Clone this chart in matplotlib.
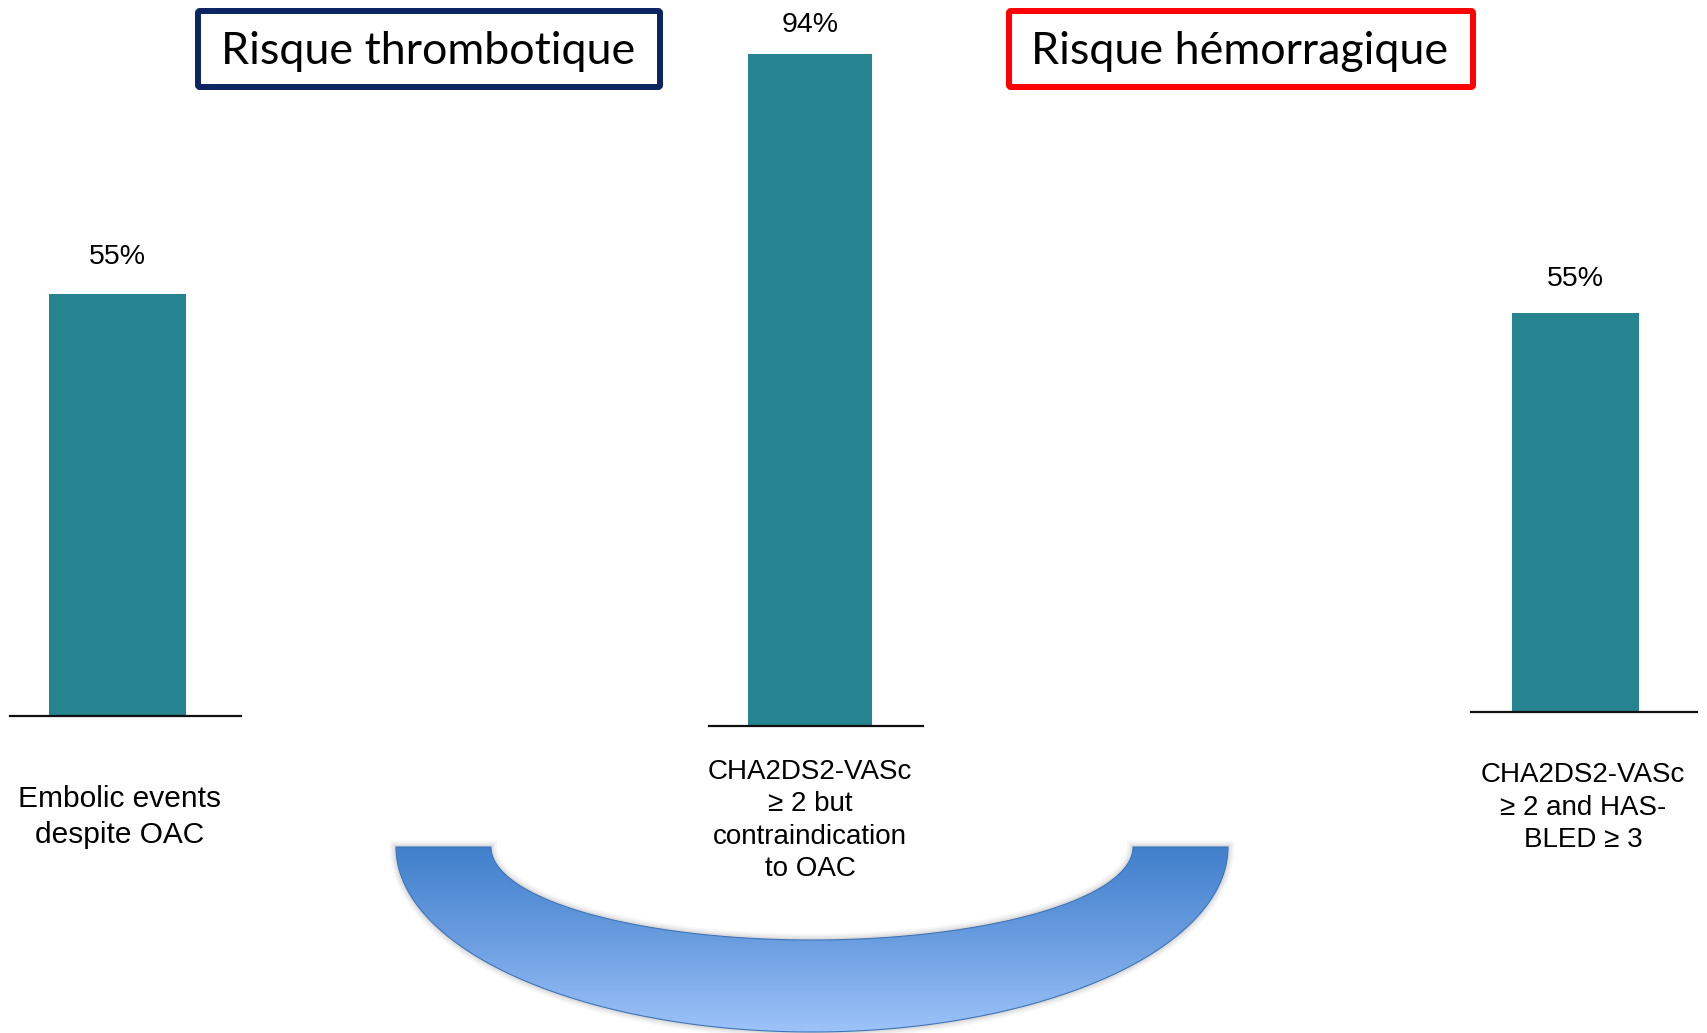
import numpy as np
import matplotlib
matplotlib.use("Agg")
import matplotlib.pyplot as plt
from matplotlib.path import Path
from matplotlib.patches import PathPatch, FancyBboxPatch
from matplotlib.colors import LinearSegmentedColormap

# ---- data ----
categories = [
    "Embolic events\ndespite OAC",
    "CHA2DS2-VASc\n\u2265 2 but\ncontraindication\nto OAC",
    "CHA2DS2-VASc\n\u2265 2 and HAS-\nBLED \u2265 3",
]
values = [55, 94, 55]
value_labels = ["55%", "94%", "55%"]
titles = ["Risque thrombotique", "Risque h\u00e9morragique"]

# ---- style ----
W, H = 1708, 1033
BAR_COLOR = "#268390"
FONT = "Liberation Sans"

fig = plt.figure(figsize=(W / 100, H / 100), dpi=100)
fig.patch.set_facecolor("white")

# full-figure canvas in pixel coordinates for the decorations
bg = fig.add_axes([0, 0, 1, 1])
bg.set_xlim(0, W)
bg.set_ylim(H, 0)
bg.axis("off")

# panel layout: (x_left, x_right, baseline_y) in pixels, y-limit, bar x, bar width,
# label x, label pad (pt), value-label offset (pt), label font size
panels = [
    dict(x0=10, x1=241, base=716, ymax=93.3, bx=0.465, bw=0.593, lx=0.476, pad=50, off=17, fs=21.5),
    dict(x0=709, x1=923, base=726, ymax=101.6, bx=0.472, bw=0.584, lx=0.472, pad=23.5, off=11.5, fs=20),
    dict(x0=1471, x1=1697, base=712, ymax=98.1, bx=0.462, bw=0.562, lx=0.496, pad=36, off=15, fs=20),
]

for p, cat, val, vlab in zip(panels, categories, values, value_labels):
    ax = fig.add_axes([p["x0"] / W, 1 - p["base"] / H, (p["x1"] - p["x0"]) / W, p["base"] / H])
    ax.patch.set_alpha(0)
    ax.set_xlim(0, 1)
    ax.set_ylim(0, p["ymax"])
    ax.bar([p["bx"]], [val], width=p["bw"], color=BAR_COLOR, zorder=2)
    ax.annotate(vlab, xy=(p["bx"], val), xytext=(0, p["off"]), textcoords="offset points",
                ha="center", va="bottom", fontsize=20.5, family=FONT, color="black")
    for s in ["top", "left", "right"]:
        ax.spines[s].set_visible(False)
    ax.spines["bottom"].set_linewidth(1.6)
    ax.spines["bottom"].set_color("#111111")
    ax.spines["bottom"].set_zorder(3)
    ax.set_yticks([])
    ax.set_xticks([p["lx"]])
    ax.set_xticklabels([cat], fontsize=p["fs"], family=FONT, linespacing=1.33)
    ax.tick_params(axis="x", length=0, pad=p["pad"])

# ---- title boxes ----
boxes = [
    dict(x0=198, x1=660, color="#0c2461", tx=428),
    dict(x0=1009, x1=1473, color="#ff0000", tx=1240),
]
for b, t in zip(boxes, titles):
    rect = FancyBboxPatch((b["x0"], 11), b["x1"] - b["x0"], 76,
                          boxstyle="round,pad=0,rounding_size=2",
                          linewidth=4.3, edgecolor=b["color"], facecolor="white", zorder=2)
    bg.add_patch(rect)
    bg.text(b["tx"], 52, t, ha="center", va="center", fontsize=32.3, family="Lato",
            color="black", zorder=3)

# ---- gradient half-ring under the middle panel ----
cx, top = 812, 847
ro_x, ro_y = 416, 185
ri_x, ri_y = 321, 93
t1 = np.linspace(np.pi, 0, 200)
outer = np.column_stack([cx + ro_x * np.cos(t1), top + ro_y * np.sin(t1)])
t2 = np.linspace(0, np.pi, 200)
inner = np.column_stack([cx + ri_x * np.cos(t2), top + ri_y * np.sin(t2)])
verts = np.vstack([outer, inner, outer[:1]])
codes = [Path.MOVETO] + [Path.LINETO] * (len(verts) - 2) + [Path.CLOSEPOLY]
ring = Path(verts, codes)

# soft shadow
for lw, a in [(9, 0.05), (6, 0.07), (3, 0.10)]:
    bg.add_patch(PathPatch(ring, facecolor="none", edgecolor="#555555", linewidth=lw,
                           alpha=a, zorder=1))

cmap = LinearSegmentedColormap.from_list("ring", ["#4180cc", "#6a9de0", "#9dc3f9"])
grad = np.linspace(0, 1, 256).reshape(-1, 1)
img = bg.imshow(grad, cmap=cmap, extent=[cx - ro_x, cx + ro_x, top + ro_y, top],
                aspect="auto", zorder=1.5, interpolation="bilinear")
clip = PathPatch(ring, facecolor="none", edgecolor="none", transform=bg.transData)
bg.add_patch(clip)
img.set_clip_path(clip)
bg.add_patch(PathPatch(ring, facecolor="none", edgecolor="#3d74b8", linewidth=0.8, zorder=1.6))
bg.set_xlim(0, W)
bg.set_ylim(H, 0)

fig.savefig("out.png", dpi=100)
